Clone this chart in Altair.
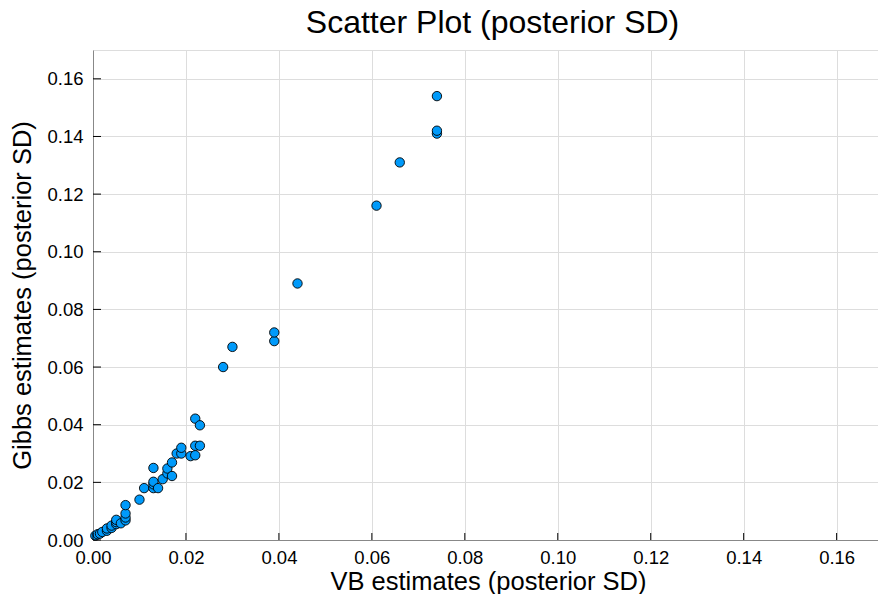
import altair as alt
import pandas as pd

# VB (x) vs Gibbs (y) posterior SD estimates
vb = [0.0005, 0.001, 0.0015, 0.002, 0.003, 0.003, 0.004, 0.004, 0.005, 0.005,
      0.005, 0.006, 0.007, 0.007, 0.007, 0.007, 0.010, 0.011, 0.013, 0.013,
      0.013, 0.013, 0.014, 0.015, 0.016, 0.016, 0.017, 0.017, 0.018, 0.019,
      0.019, 0.021, 0.022, 0.022, 0.022, 0.023, 0.023, 0.028, 0.030, 0.039,
      0.039, 0.044, 0.061, 0.066, 0.074, 0.074, 0.074]
gibbs = [0.0015, 0.002, 0.0022, 0.0028, 0.0032, 0.0040, 0.0042, 0.0050, 0.0055, 0.0062,
         0.0070, 0.0058, 0.0068, 0.0078, 0.0092, 0.0121, 0.0140, 0.0180, 0.0180, 0.0193,
         0.0202, 0.0250, 0.0180, 0.0211, 0.0231, 0.0248, 0.0222, 0.0269, 0.0300, 0.0300,
         0.0320, 0.0291, 0.0294, 0.0327, 0.0421, 0.0327, 0.0398, 0.060, 0.067, 0.069,
         0.072, 0.089, 0.116, 0.131, 0.141, 0.142, 0.154]
tick_values = [0.00, 0.02, 0.04, 0.06, 0.08, 0.10, 0.12, 0.14, 0.16]

FONT = "Liberation Sans"
W, H = 785, 490
xdom = [0, 0.1689]
ydom = [0, 0.17]

df = pd.DataFrame({"vb": vb, "gibbs": gibbs})
ticks = pd.DataFrame({"vb": tick_values, "gibbs": tick_values})

xscale = alt.Scale(domain=xdom, nice=False, zero=False)
yscale = alt.Scale(domain=ydom, nice=False, zero=False)

xaxis = alt.Axis(
    values=tick_values, format=".2f", title="VB estimates (posterior SD)",
    grid=True, ticks=False, tickSize=0, labelPadding=23, labelBaseline="alphabetic",
    titleX=395, titleY=49, titleBaseline="alphabetic", titleFontSize=25.5,
    titleFontWeight="normal", labelFontSize=18.5, labelFlush=False, labelOverlap=False)
yaxis = alt.Axis(
    values=tick_values, format=".2f", title="Gibbs estimates (posterior SD)",
    grid=True, ticks=False, tickSize=0, labelPadding=10, labelBaseline="middle",
    titleX=-63, titleY=H / 2, titleAngle=-90, titleBaseline="alphabetic",
    titleFontSize=25.5, titleFontWeight="normal",
    labelFontSize=18.5, labelFlush=False, labelOverlap=False)

points = alt.Chart(df).mark_circle(
    size=88, color="#009AFA", opacity=1, stroke="#000000", strokeWidth=0.9
).encode(
    x=alt.X("vb:Q", scale=xscale, axis=xaxis),
    y=alt.Y("gibbs:Q", scale=yscale, axis=yaxis),
)

xticks = alt.Chart(ticks).mark_rule(color="#000000", strokeWidth=1).encode(
    x=alt.X("vb:Q", scale=xscale, axis=xaxis),
    y=alt.value(H), y2=alt.value(H - 7),
)
yticks = alt.Chart(ticks).mark_rule(color="#000000", strokeWidth=1).encode(
    y=alt.Y("gibbs:Q", scale=yscale, axis=yaxis),
    x=alt.value(0), x2=alt.value(8),
)

chart = alt.layer(points, xticks, yticks).properties(
    width=W, height=H,
    title=alt.TitleParams("Scatter Plot (posterior SD)", fontSize=32, font=FONT,
                          fontWeight="normal", color="#000000", anchor="middle",
                          baseline="alphabetic", offset=17, dy=32, dx=7,
                          frame="group"),
    autosize=alt.AutoSizeParams(type="none"),
    padding={"left": 85, "top": 42, "right": 0, "bottom": 54},
).configure_view(strokeWidth=0).configure_axis(
    labelFont=FONT, titleFont=FONT, labelColor="#000000", titleColor="#000000",
    domainColor="#000000", domainWidth=1.3, gridColor="#ebebeb", gridWidth=1,
).configure(background="#ffffff")

chart.save("out.html", embed_options={"renderer": "svg", "actions": False})
